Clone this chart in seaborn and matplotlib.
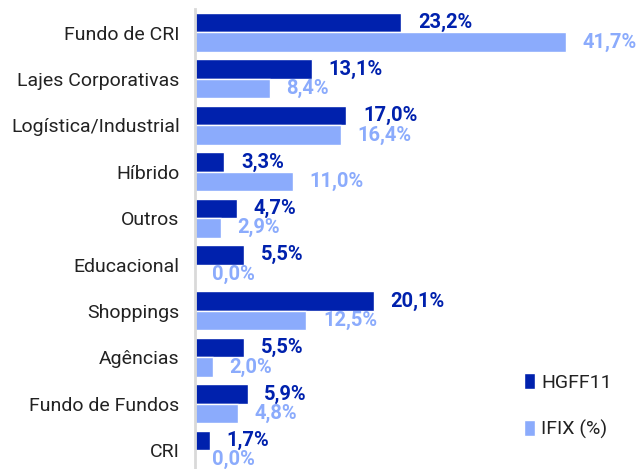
import pandas as pd
import matplotlib.pyplot as plt
import seaborn as sns
from matplotlib.patches import Patch

categorias = ['Fundo de CRI', 'Lajes Corporativas', 'Logística/Industrial', 'Híbrido', 'Outros',
              'Educacional', 'Shoppings', 'Agências', 'Fundo de Fundos', 'CRI']
hgff11 = [23.2, 13.1, 17.0, 3.3, 4.7, 5.5, 20.1, 5.5, 5.9, 1.7]
ifix = [41.7, 8.4, 16.4, 11.0, 2.9, 0.0, 12.5, 2.0, 4.8, 0.0]
series = ['HGFF11', 'IFIX (%)']
cores = ['#0021AD', '#8BABFC']

df = pd.DataFrame({
    'categoria': categorias * 2,
    'valor': hgff11 + ifix,
    'serie': [series[0]] * len(categorias) + [series[1]] * len(categorias),
})

sns.set_style('white')
plt.rcParams['font.family'] = ['Roboto', 'DejaVu Sans']

fig = plt.figure(figsize=(6.4, 4.69), dpi=100)
ax = fig.add_axes([195 / 640, -4.3 / 469, 445 / 640, 464 / 469])

sns.barplot(data=df, y='categoria', x='valor', hue='serie', palette=cores,
            orient='h', width=0.84, ax=ax, legend=False, saturation=1)

for cont, cor in zip(ax.containers, cores):
    labels = [f'{v:.1f}%'.replace('.', ',') for v in cont.datavalues]
    ax.bar_label(cont, labels=labels, padding=12, color=cor, fontsize=14.5, fontweight='bold')

ax.set_xlim(0, 50)
ax.set_ylim(9.5, -0.5)
ax.set_xlabel('')
ax.set_ylabel('')
ax.set_xticks([])
ax.tick_params(axis='y', length=0, pad=11, labelsize=14, labelcolor='#222222')
for s in ['top', 'right', 'bottom']:
    ax.spines[s].set_visible(False)
ax.spines['left'].set_color('#d9d9d9')
ax.spines['left'].set_linewidth(2)

handles = [Patch(facecolor=c, label=s) for c, s in zip(cores, series)]
fig.legend(handles=handles, loc='center left', bbox_to_anchor=(506 / 640, (469 - 406) / 469),
           frameon=False, fontsize=14, handlelength=0.6, handleheight=0.9,
           handletextpad=0.3, labelspacing=1.45, labelcolor='#222222')

plt.savefig('out.png', dpi=100)
